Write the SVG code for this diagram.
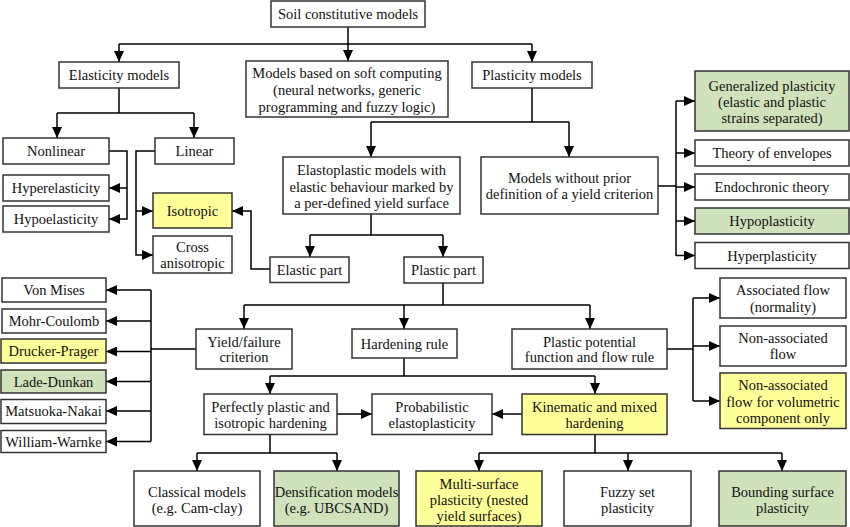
<svg xmlns="http://www.w3.org/2000/svg" width="850" height="527" viewBox="0 0 850 527">
<defs>
<marker id="ah" markerUnits="userSpaceOnUse" markerWidth="11" markerHeight="10" refX="11" refY="5" orient="auto">
<path d="M0,0 L11,5 L0,10 z" fill="#000"/>
</marker>
<style>
rect{fill:#fff;stroke:#333;stroke-width:1.5}
rect.y{fill:#ffff99}
rect.g{fill:#cfe2bb}
text{font-family:"Liberation Serif","Times New Roman",serif;font-size:14.5px;fill:#111;text-anchor:middle}
#connectors path{fill:none;stroke:#000;stroke-width:1.5}
#connectors path.a{marker-end:url(#ah)}
</style>
</defs>
<rect x="0" y="0" width="850" height="527" style="fill:#fff;stroke:none"/>
<g id="connectors">
<path d="M348,27 V44 M119,44 H532"/>
<path class="a" d="M119,44 V62"/>
<path class="a" d="M348,44 V61"/>
<path class="a" d="M532,44 V62"/>
<path d="M119,88 V113 M57,113 H194"/>
<path class="a" d="M57,113 V138"/>
<path class="a" d="M194,113 V138"/>
<path class="a" d="M109,151 H127 V219 H109"/>
<path class="a" d="M127,188 H109"/>
<path class="a" d="M155,151 H136 V255 H153"/>
<path class="a" d="M136,211 H153"/>
<path class="a" d="M270,269 H251 V211 H232"/>
<path d="M532,88 V122 M371,122 H569"/>
<path class="a" d="M371,122 V157"/>
<path class="a" d="M569,122 V157"/>
<path d="M658,186 H676 M676,101 V256"/>
<path class="a" d="M676,101 H695"/>
<path class="a" d="M676,153 H695"/>
<path class="a" d="M676,187 H695"/>
<path class="a" d="M676,221 H695"/>
<path class="a" d="M676,255.5 H695"/>
<path d="M371,214 V235 M310,235 H443"/>
<path class="a" d="M310,235 V257"/>
<path class="a" d="M443,235 V257"/>
<path d="M443,283 V305 M244,305 H590"/>
<path class="a" d="M244,305 V329"/>
<path class="a" d="M404,305 V329"/>
<path class="a" d="M590,305 V329"/>
<path d="M196,349 H151 M151,290 V441.5"/>
<path class="a" d="M151,290 H106"/>
<path class="a" d="M151,321 H106"/>
<path class="a" d="M151,351.5 H106"/>
<path class="a" d="M151,381.5 H106"/>
<path class="a" d="M151,411 H106"/>
<path class="a" d="M151,441.5 H106"/>
<path d="M667,349 H693 M693,298 V401"/>
<path class="a" d="M693,298 H720"/>
<path class="a" d="M693,346 H720"/>
<path class="a" d="M693,401 H720"/>
<path d="M404,358 V376 M270,376 H595"/>
<path class="a" d="M270,376 V394"/>
<path class="a" d="M595,376 V394"/>
<path class="a" d="M337,414 H372"/>
<path class="a" d="M522,414 H492"/>
<path d="M270,434 V453 M197,453 H337"/>
<path class="a" d="M197,453 V471"/>
<path class="a" d="M337,453 V471"/>
<path d="M595,434 V453 M479,453 H782"/>
<path class="a" d="M479,453 V471"/>
<path class="a" d="M628,453 V471"/>
<path class="a" d="M782,453 V471"/>
</g>
<g id="soil"><rect x="271" y="1" width="154" height="26"/><text x="348" y="19">Soil constitutive models</text></g>
<g id="elasticity"><rect x="59" y="62" width="120" height="26"/><text x="119" y="80">Elasticity models</text></g>
<g id="softcomp"><rect x="246" y="61" width="202" height="56"/><text x="347" y="78">Models based on soft computing</text><text x="347" y="95">(neural networks, generic</text><text x="347" y="111.5">programming and fuzzy logic)</text></g>
<g id="plasticity"><rect x="472" y="62" width="120" height="26"/><text x="532" y="80">Plasticity models</text></g>
<g id="nonlinear"><rect x="3" y="138" width="106" height="26"/><text x="56" y="156">Nonlinear</text></g>
<g id="linear"><rect x="155" y="138" width="79" height="26"/><text x="194.5" y="156">Linear</text></g>
<g id="hyperelasticity"><rect x="3" y="175" width="106" height="26"/><text x="56" y="193">Hyperelasticity</text></g>
<g id="hypoelasticity"><rect x="3" y="206" width="106" height="26"/><text x="56" y="224">Hypoelasticity</text></g>
<g id="isotropic"><rect class="y" x="153" y="193" width="79" height="35"/><text x="192.5" y="215.5">Isotropic</text></g>
<g id="crossaniso"><rect x="153" y="236" width="79" height="37"/><text x="192.5" y="252">Cross</text><text x="192.5" y="268">anisotropic</text></g>
<g id="elastoplastic"><rect x="283" y="157" width="177" height="57"/><text x="371.5" y="175">Elastoplastic models with</text><text x="371.5" y="191.5">elastic behaviour marked by</text><text x="371.5" y="207.5">a per-defined yield surface</text></g>
<g id="withoutprior"><rect x="481" y="157" width="177" height="57"/><text x="569.5" y="182.5">Models without prior</text><text x="569.5" y="199">definition of a yield criterion</text></g>
<g id="generalized"><rect class="g" x="695" y="71" width="154" height="60"/><text x="772" y="91">Generalized plasticity</text><text x="772" y="106.5">(elastic and plastic</text><text x="772" y="122.5">strains separated)</text></g>
<g id="envelopes"><rect x="695" y="140" width="154" height="26"/><text x="772" y="158">Theory of envelopes</text></g>
<g id="endochronic"><rect x="695" y="174" width="154" height="26"/><text x="772" y="192">Endochronic theory</text></g>
<g id="hypoplasticity"><rect class="g" x="695" y="208" width="154" height="26"/><text x="772" y="226">Hypoplasticity</text></g>
<g id="hyperplasticity"><rect x="695" y="242.5" width="154" height="26"/><text x="772" y="260.5">Hyperplasticity</text></g>
<g id="elasticpart"><rect x="270" y="257" width="79" height="25.5"/><text x="309.5" y="274.5">Elastic part</text></g>
<g id="plasticpart"><rect x="404" y="257" width="79" height="26"/><text x="443.5" y="275">Plastic part</text></g>
<g id="vonmises"><rect x="2" y="278" width="104" height="24"/><text x="54" y="295">Von Mises</text></g>
<g id="mohr"><rect x="2" y="309" width="104" height="24"/><text x="54" y="326">Mohr-Coulomb</text></g>
<g id="drucker"><rect class="y" x="1" y="339" width="105" height="24"/><text x="53.5" y="356">Drucker-Prager</text></g>
<g id="lade"><rect class="g" x="1" y="370" width="105" height="23"/><text x="53.5" y="386.5">Lade-Dunkan</text></g>
<g id="matsuoka"><rect x="1" y="399.5" width="105" height="24"/><text x="53.5" y="416">Matsuoka-Nakai</text></g>
<g id="william"><rect x="1" y="430.5" width="105" height="22"/><text x="53.5" y="446.5">William-Warnke</text></g>
<g id="yield"><rect x="196" y="329" width="96" height="40"/><text x="244" y="346.5">Yield/failure</text><text x="244" y="362">criterion</text></g>
<g id="hardening"><rect x="352" y="329" width="105" height="29"/><text x="404.5" y="348.5">Hardening rule</text></g>
<g id="potential"><rect x="512" y="329" width="155" height="40"/><text x="589.5" y="346.5">Plastic potential</text><text x="589.5" y="362">function and flow rule</text></g>
<g id="associated"><rect x="720" y="278" width="126" height="40"/><text x="783" y="295">Associated flow</text><text x="783" y="311.5">(normality)</text></g>
<g id="nonassociated"><rect x="720" y="326" width="126" height="40"/><text x="783" y="343">Non-associated</text><text x="783" y="359">flow</text></g>
<g id="nonassocvol"><rect class="y" x="720" y="373" width="126" height="55.5"/><text x="783" y="390">Non-associated</text><text x="783" y="406.5">flow for volumetric</text><text x="783" y="422.5">component only</text></g>
<g id="perfectly"><rect x="204" y="394" width="133" height="40.5"/><text x="270.5" y="411.5">Perfectly plastic and</text><text x="270.5" y="427.5">isotropic hardening</text></g>
<g id="probabilistic"><rect x="372" y="394" width="120" height="40.5"/><text x="432" y="411.5">Probabilistic</text><text x="432" y="427.5">elastoplasticity</text></g>
<g id="kinematic"><rect class="y" x="522" y="394" width="145" height="40.5"/><text x="594.5" y="411.5">Kinematic and mixed</text><text x="594.5" y="427.5">hardening</text></g>
<g id="classical"><rect x="134" y="471" width="126" height="55"/><text x="197" y="497">Classical models</text><text x="197" y="512.5">(e.g. Cam-clay)</text></g>
<g id="densification"><rect class="g" x="274" y="471" width="125" height="55"/><text x="336.5" y="497">Densification models</text><text x="336.5" y="512.5">(e.g. UBCSAND)</text></g>
<g id="multisurface"><rect class="y" x="416" y="471" width="126" height="55"/><text x="479" y="489">Multi-surface</text><text x="479" y="505">plasticity (nested</text><text x="479" y="521">yield surfaces)</text></g>
<g id="fuzzy"><rect x="564" y="471" width="127" height="55"/><text x="627.5" y="497">Fuzzy set</text><text x="627.5" y="512.5">plasticity</text></g>
<g id="bounding"><rect class="g" x="719" y="471" width="127" height="55"/><text x="782.5" y="497">Bounding surface</text><text x="782.5" y="512.5">plasticity</text></g>
</svg>
